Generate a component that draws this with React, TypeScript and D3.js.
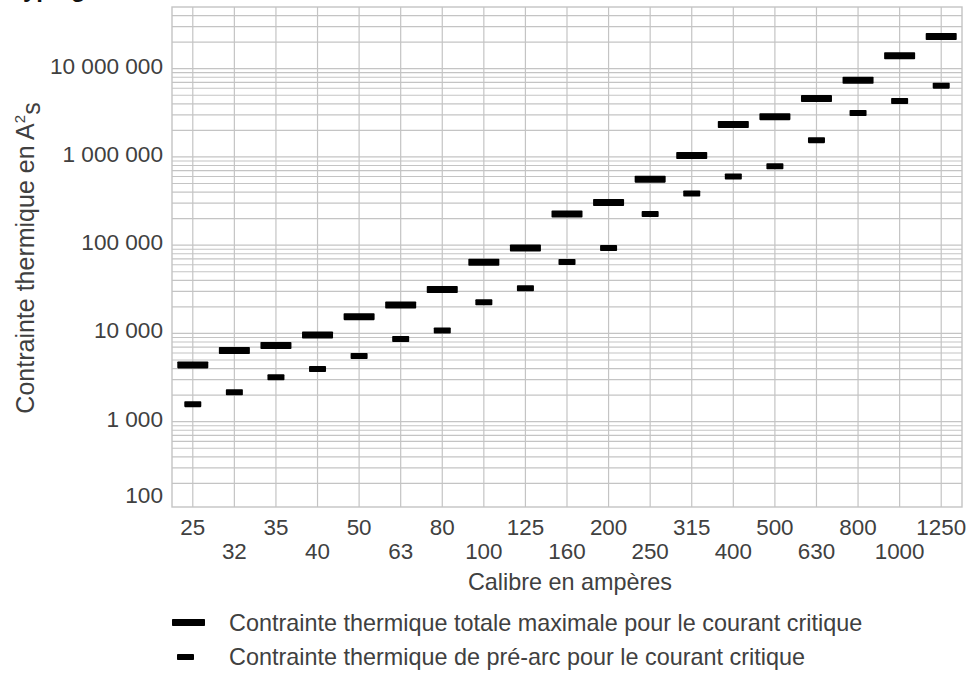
import React from "react";
import * as d3 from "d3";

const categories = ["25","32","35","40","50","63","80","100","125","160","200","250","315","400","500","630","800","1000","1250"];
const totalI2t = [4400, 6400, 7300, 9600, 15500, 21000, 31500, 64000, 93000, 225000, 305000, 560000, 1040000, 2330000, 2860000, 4580000, 7400000, 14000000, 23200000];
const preArcI2t = [1580, 2160, 3180, 3960, 5560, 8660, 10800, 22500, 32500, 64400, 92700, 225000, 385000, 600000, 785000, 1550000, 3150000, 4300000, 6420000];
const yTickValues = [100, 1000, 10000, 100000, 1000000, 10000000];
const yTickLabels = ["100", "1 000", "10 000", "100 000", "1 000 000", "10 000 000"];
const legendLabels = [
  "Contrainte thermique totale maximale pour le courant critique",
  "Contrainte thermique de pré-arc pour le courant critique",
];

const W = 967, H = 673;
const left = 172, right = 962, top = 7, bottom = 507;
const FONT = "'Liberation Sans', Arial, Helvetica, sans-serif";
const TXT = "#404040";
const GRID = "#c4c4c4";

export default function App() {
  const x = d3.scalePoint<string>().domain(categories).range([left, right]).padding(0.5);
  const y = d3.scaleLog().domain([108, 5e7]).range([bottom, top]);

  const minor: number[] = [];
  for (let e = 2; e <= 7; e++) {
    for (let m = 1; m <= 9; m++) {
      const v = m * Math.pow(10, e);
      if (v > 108 && v < 5e7) minor.push(v);
    }
  }

  const totW = 31, totH = 7, preW = 17, preH = 6;

  return (
    <svg width={W} height={H} style={{ position: "absolute", left: 0, top: 0, background: "#fff" }} fontFamily={FONT}>
      <rect x={0} y={0} width={W} height={H} fill="#fff" />
      <text x={10} y={-3} fontSize={24} fontWeight="bold" fill="#111">Type gG</text>

      {minor.map((v, i) => (
        <line key={"h" + i} x1={left} x2={right} y1={y(v)} y2={y(v)} stroke={GRID} strokeWidth={1.2} />
      ))}
      {categories.map((c) => (
        <line key={"v" + c} x1={x(c)} x2={x(c)} y1={top} y2={bottom} stroke={GRID} strokeWidth={1.2} />
      ))}
      <rect x={left} y={top} width={right - left} height={bottom - top} fill="none" stroke={GRID} strokeWidth={1.4} />

      {categories.map((c, i) => (
        <rect key={"t" + c} x={(x(c) as number) - totW / 2} y={y(totalI2t[i]) - totH / 2} width={totW} height={totH} fill="#000" rx={0.8} />
      ))}
      {categories.map((c, i) => (
        <rect key={"p" + c} x={(x(c) as number) - preW / 2} y={y(preArcI2t[i]) - preH / 2} width={preW} height={preH} fill="#000" rx={0.8} />
      ))}

      {yTickValues.map((v, i) => (
        <text key={"yl" + v} x={163} y={Math.min(y(v) - 3, bottom - 12)} dy="0.35em" textAnchor="end" fontSize={22.6} fill={TXT}>
          {yTickLabels[i]}
        </text>
      ))}

      {categories.map((c, i) => (
        <text key={"xl" + c} x={x(c)} y={i % 2 === 0 ? 527 : 551} dy="0.35em" textAnchor="middle" fontSize={22.4} fill={TXT}>
          {c}
        </text>
      ))}

      <text x={(left + right) / 2 + 3} y={582} dy="0.35em" textAnchor="middle" fontSize={23.4} fill={TXT}>Calibre en ampères</text>

      <text transform={`translate(25,258) rotate(-90)`} dy="0.35em" textAnchor="middle" fontSize={25} fill={TXT}>
        Contrainte thermique en A<tspan dy="-0.6em" fontSize={15}>2</tspan><tspan dy="0.6em">s</tspan>
      </text>

      <rect x={172} y={619} width={33} height={7} fill="#000" rx={0.8} />
      <text x={229} y={623} dy="0.35em" fontSize={23.4} fill={TXT}>{legendLabels[0]}</text>
      <rect x={177} y={654} width={17} height={6} fill="#000" rx={0.8} />
      <text x={229} y={657} dy="0.35em" fontSize={23.4} fill={TXT}>{legendLabels[1]}</text>
    </svg>
  );
}
